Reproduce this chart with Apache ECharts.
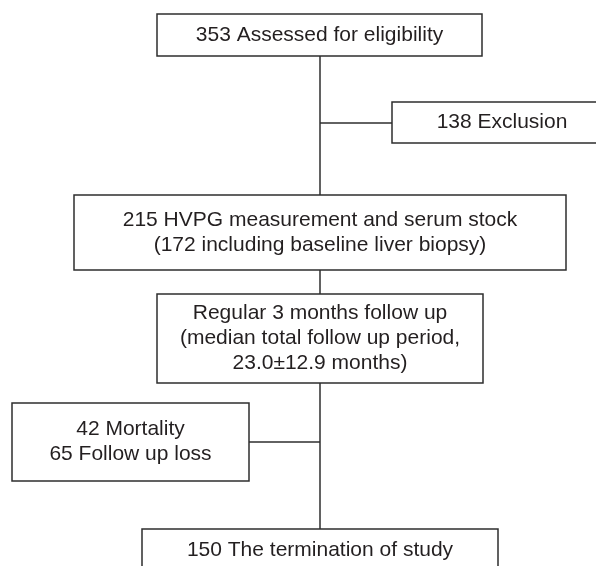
<!DOCTYPE html>
<html>
<head>
<meta charset="utf-8">
<script src="https://cdn.jsdelivr.net/npm/echarts@6/dist/echarts.min.js"></script>
<style>
  html, body { margin: 0; padding: 0; background: #fff; }
  #main { width: 596px; height: 566px; }
</style>
</head>
<body>
<div id="main"></div>
<script>
// box texts, top to bottom
const boxLabels = [
  '353 Assessed for eligibility',
  '138 Exclusion',
  '215 HVPG measurement and serum stock\n(172 including baseline liver biopsy)',
  'Regular 3 months follow up\n(median total follow up period,\n23.0±12.9 months)',
  '42 Mortality\n65 Follow up loss',
  '150 The termination of study'
];

// layout of the boxes: [x0, y0, x1, y1] in page units
const boxLayout = [
  [157, 14, 482, 56],
  [392, 102, 612, 143],
  [74, 195, 566, 270],
  [157, 294, 483, 383],
  [12, 403, 249, 481],
  [142, 529, 498, 572]
];

// connector segments: [x0, y0, x1, y1]
const connectors = [
  [320, 56, 320, 195],
  [320, 123, 392, 123],
  [320, 270, 320, 294],
  [320, 383, 320, 529],
  [249, 442, 320, 442]
];

const lineColor = '#2e2e2e';
const fontSpec = '21px "Liberation Sans", Arial, sans-serif';

let chart = echarts.init(document.getElementById('main'));

let option = {
  animation: false,
  backgroundColor: '#fff',
  grid: { left: 0, right: 0, top: 0, bottom: 0 },
  xAxis: { type: 'value', min: 0, max: 596, show: false },
  yAxis: { type: 'value', min: 0, max: 566, inverse: true, show: false },
  series: [
    {
      type: 'custom',
      name: 'connectors',
      data: connectors,
      renderItem: function (params, api) {
        let p0 = api.coord([api.value(0), api.value(1)]);
        let p1 = api.coord([api.value(2), api.value(3)]);
        return {
          type: 'line',
          shape: { x1: p0[0], y1: p0[1], x2: p1[0], y2: p1[1] },
          style: { stroke: lineColor, lineWidth: 1.5 }
        };
      }
    },
    {
      type: 'custom',
      name: 'boxes',
      data: boxLayout.map((b, i) => [b[0], b[1], b[2], b[3], i]),
      renderItem: function (params, api) {
        let p0 = api.coord([api.value(0), api.value(1)]);
        let p1 = api.coord([api.value(2), api.value(3)]);
        let idx = api.value(4);
        return {
          type: 'group',
          children: [
            {
              type: 'rect',
              shape: { x: p0[0], y: p0[1], width: p1[0] - p0[0], height: p1[1] - p0[1] },
              style: { fill: '#fff', stroke: lineColor, lineWidth: 1.5 }
            },
            {
              type: 'text',
              style: {
                text: boxLabels[idx],
                x: (p0[0] + p1[0]) / 2,
                y: (p0[1] + p1[1]) / 2,
                align: 'center',
                verticalAlign: 'middle',
                font: fontSpec,
                lineHeight: 25,
                fill: '#231f20'
              }
            }
          ]
        };
      }
    }
  ]
};

option && chart.setOption(option);
</script>
</body>
</html>
